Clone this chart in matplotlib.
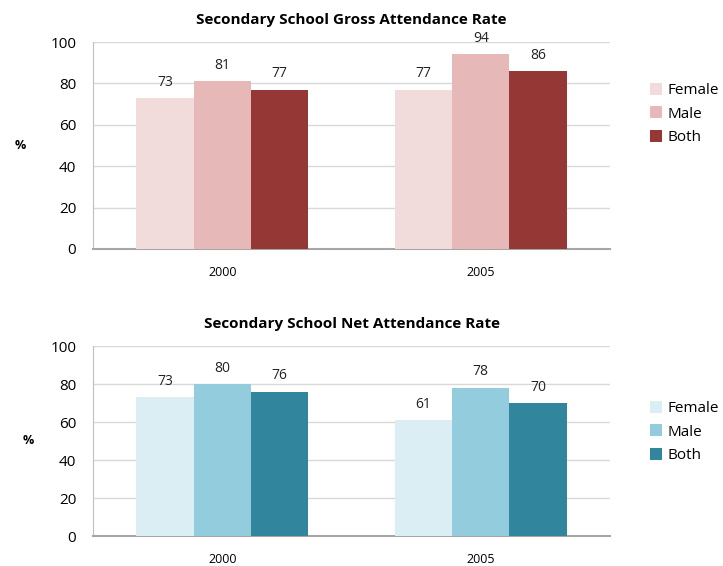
import numpy as np
import matplotlib.pyplot as plt

plt.rcParams['font.family'] = ['Open Sans', 'DejaVu Sans']

years = ['2000', '2005']
series = ['Female', 'Male', 'Both']
gross = {'Female': [73, 77], 'Male': [81, 94], 'Both': [77, 86]}
net = {'Female': [73, 61], 'Male': [80, 78], 'Both': [76, 70]}
gross_colors = ['#F2DCDB', '#E6B9B8', '#953735']
net_colors = ['#DBEEF4', '#93CDDD', '#31859C']

W, H = 723, 566
fig = plt.figure(figsize=(W / 100, H / 100), dpi=100)


def panel(rect, data, colors, title, pct_x, leg_y):
    l, t, r, b = rect
    ax = fig.add_axes([l / W, 1 - b / H, (r - l) / W, (b - t) / H])
    x = np.arange(len(years))
    bw = 0.222
    for i, s in enumerate(series):
        bars = ax.bar(x + (i - 1) * bw, data[s], bw, color=colors[i], label=s, zorder=3)
        for rect_, v in zip(bars, data[s]):
            ax.annotate(str(v), (rect_.get_x() + rect_.get_width() / 2, v),
                        xytext=(0, 6), textcoords='offset points',
                        ha='center', va='bottom', fontsize=10, color='#222222')
    ax.set_xlim(-0.5, 1.5)
    ax.set_ylim(0, 100)
    ax.set_yticks(range(0, 101, 20))
    ax.set_xticks(x)
    ax.set_xticklabels(years, fontsize=9)
    ax.tick_params(axis='y', labelsize=11, length=0, pad=12)
    ax.tick_params(axis='x', length=0, pad=12)
    ax.grid(axis='y', color='#D9D9D9', linewidth=1, zorder=0)
    for sp in ['top', 'right']:
        ax.spines[sp].set_visible(False)
    ax.spines['left'].set_color('#BFBFBF')
    ax.spines['bottom'].set_color('#A6A6A6')
    ax.spines['bottom'].set_linewidth(1.5)
    ax.set_title(title, fontsize=11, fontweight='bold', pad=13)
    ax.set_ylabel('%', rotation=0, fontsize=9, fontweight='bold', va='center')
    ax.yaxis.set_label_coords(pct_x, 0.5)
    ax.legend(loc='center left', bbox_to_anchor=(1.05, leg_y), frameon=False,
              fontsize=11, handlelength=0.8, handleheight=0.8, handletextpad=0.4,
              labelspacing=0.55)
    return ax


panel((93, 42, 610, 249), gross, gross_colors, 'Secondary School Gross Attendance Rate',
      -0.14, 0.652)
panel((93, 346, 610, 536), net, net_colors, 'Secondary School Net Attendance Rate',
      -0.125, 0.547)

fig.savefig('out.png', dpi=100)
